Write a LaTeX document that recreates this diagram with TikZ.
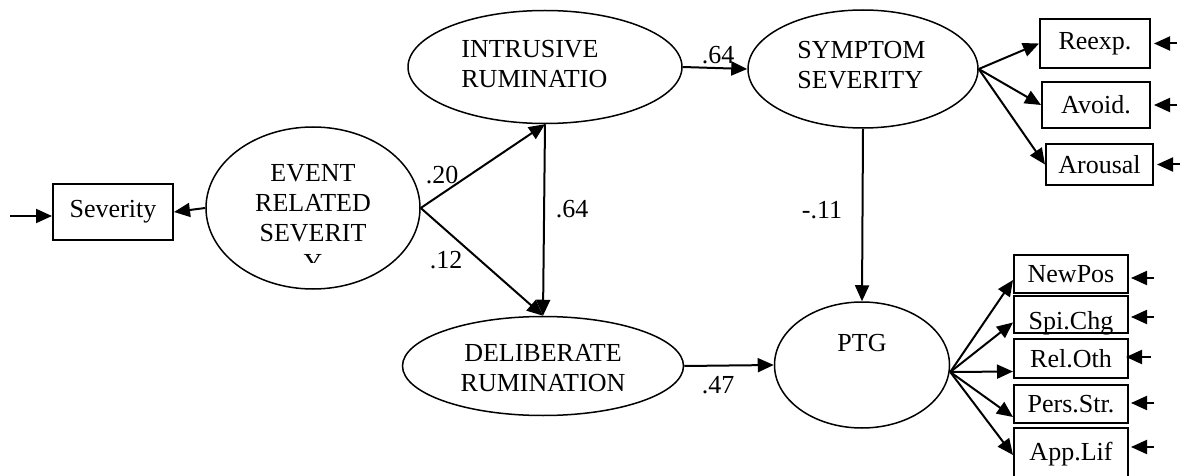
\documentclass[tikz,border=0pt]{standalone}
\usepackage{fontspec}
\setmainfont{Liberation Serif}
\usetikzlibrary{shapes.geometric,arrows.meta}

\begin{document}
\begin{tikzpicture}[x=0.5pt,y=-0.5pt,
  every node/.style={font=\fontsize{13}{15}\selectfont},
  latent/.style={draw,ellipse,line width=0.75pt,inner sep=0pt},
  obs/.style={draw,rectangle,line width=1pt,inner sep=0pt,minimum width=57pt,minimum height=19pt},
  arr/.style={line width=1pt,-{Triangle[length=8pt,width=7pt]}},
  lbl/.style={inner sep=0pt,align=center}]
  \clip (0,0) rectangle (1184,476);
  % latente Variablen
  \node[latent,minimum width=107pt,minimum height=81pt] (ev) at (313,208) {};
  \node[latent,minimum width=137pt,minimum height=56.5pt] (ir) at (545,67) {};
  \node[latent,minimum width=115pt,minimum height=59pt] (ss) at (863,69) {};
  \node[latent,minimum width=140.5pt,minimum height=49.5pt] (dr) at (543,366) {};
  \node[latent,minimum width=87.5pt,minimum height=63pt] (ptg) at (862,365) {};
  \begin{scope}
    \clip (200,120) rectangle (430,262);
    \node[lbl] (ev-t) at (313,218) {EVENT\\RELATED\\SEVERIT\\Y};
  \end{scope}
  \node[lbl,align=left,anchor=west] (ir-t) at (461,64) {INTRUSIVE\\RUMINATIO};
  \node[lbl,align=left,anchor=west] (ss-t) at (797,65) {SYMPTOM\\SEVERITY};
  \node[lbl] (dr-t) at (543,368) {DELIBERATE\\RUMINATION};
  \node[lbl] (ptg-t) at (862,343) {PTG};
  % Indikatoren
  \node[obs,minimum width=60pt,minimum height=28pt] (sev) at (113,212) {Severity};
  \node[obs,minimum width=55pt,minimum height=24.5pt] (reexp) at (1095,43.5) {Reexp.};
  \node[obs,minimum width=54pt,minimum height=23pt] (avoid) at (1096,105) {Avoid.};
  \node[obs,minimum width=53.5pt,minimum height=20.5pt] (arousal) at (1099.5,164.5) {Arousal};
  \node[obs] (newpos) at (1071,274) {NewPos};
  \node[obs,minimum height=18.5pt] (spi) at (1071,314.5) {};
  \begin{scope}
    \clip (spi.south west) rectangle (spi.north east);
    \node (spi-t) at (1071,323) {Spi.Chg};
  \end{scope}
  \node[obs,minimum height=19.5pt] (relo) at (1071,358.5) {Rel.Oth};
  \node[obs] (pers) at (1071,404) {Pers.Str.};
  \node[obs,minimum height=26pt] (app) at (1071,454) {App.Lif};
  % Pfade
  \coordinate (e0) at (10,216);
  \draw[arr] (e0) -- (sev.west |- e0);
  \draw[arr] (ev.west) -- (sev.east);
  \draw[arr] (ev.east) -- (ir.south);
  \draw[arr] (ev.east) -- (dr.north);
  \draw[arr] (ir.south) -- (dr.north);
  \draw[arr] (ir.east) -- (ss.west);
  \draw[arr] (ss.south) -- (ptg.north);
  \draw[arr] (dr.east) -- (ptg.west);
  \foreach \b in {reexp,avoid,arousal}
    \draw[arr] (ss.east) -- (\b.west);
  \coordinate (ptg-o) at ([yshift=-3.5pt]ptg.east);
  \foreach \b/\s in {newpos/-3pt,spi/-4pt,relo/-6.5pt,pers/-6.5pt,app/-0.5pt}
    \draw[arr] (ptg-o) -- ([yshift=\s]\b.west);
  % Fehlerterme
  \foreach \b in {reexp,avoid,arousal}{
    \coordinate (\b-e) at ([xshift=13pt]\b.east);
    \draw[arr,shorten >=1.5pt] (\b-e) -- (\b.east);
  }
  \foreach \b/\s/\l/\g in {newpos/-2pt/12.5pt/1pt,spi/-1.25pt/12.5pt/1pt,relo/0.75pt/11pt/-1.5pt,pers/0.5pt/12.5pt/1pt,app/3.5pt/12.5pt/1pt}{
    \coordinate (\b-e) at ([xshift=\l,yshift=\s]\b.east);
    \draw[arr,shorten >=\g] (\b-e) -- (\b-e -| \b.east);
  }
  % Koeffizienten
  \node[lbl] (w1) at (442,175) {.20};
  \node[lbl] (w2) at (446,260) {.12};
  \node[lbl] (w3) at (572,209) {.64};
  \node[lbl] (w4) at (718,55) {.64};
  \node[lbl] (w5) at (822,210) {-.11};
  \node[lbl] (w6) at (718,385) {.47};
\end{tikzpicture}
\end{document}
